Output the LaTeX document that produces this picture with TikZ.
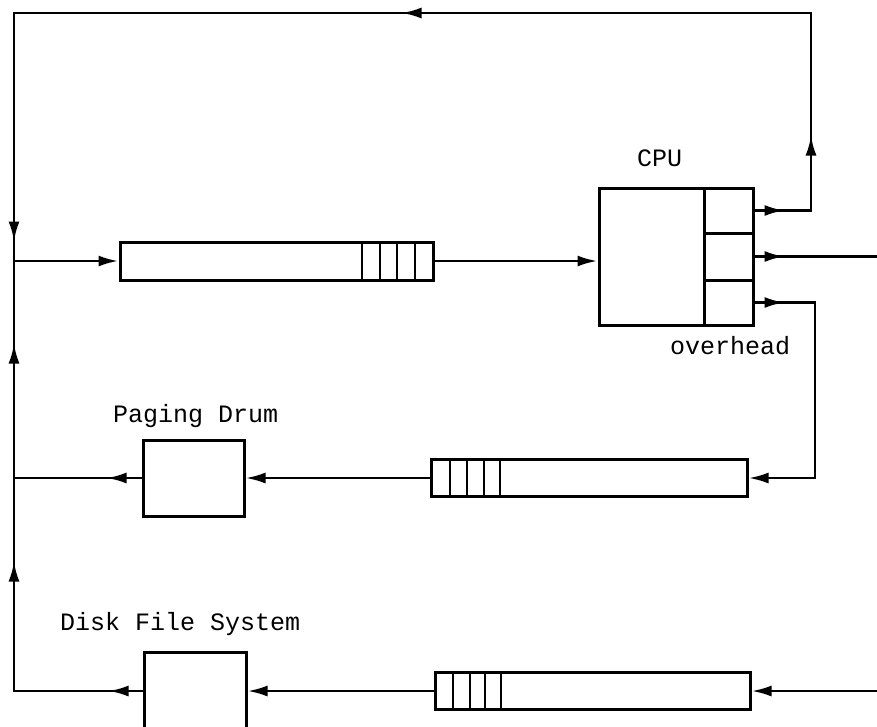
\documentclass[tikz,border=0pt]{standalone}
\usepackage{fontspec}
\setmonofont{Liberation Mono}
\usetikzlibrary{arrows.meta,decorations.markings}
\tikzset{
  conn/.style={line width=2.8pt, line join=miter},
  endtip/.style={-{Latex[length=20pt,width=11pt]}},
  ma/.style={postaction={decorate,decoration={markings,mark=at position #1 with {\arrow{Latex[length=20pt,width=11pt]}}}}},
  boxnode/.style={draw, line width=3pt, inner sep=0pt, rectangle},
  slotline/.style={line width=2.2pt},
  lbl/.style={inner sep=0pt, anchor=base west, font=\fontsize{25}{30}\selectfont\ttfamily}
}
\begin{document}
\begin{tikzpicture}[x=1pt,y=-1pt]
\useasboundingbox (0,0) rectangle (877,726);
\clip (0,0) rectangle (877,726);
% coordinates
\coordinate (TL) at (14,13);
\coordinate (TR) at (811,13);
\coordinate (J1) at (14,261);
\coordinate (C3) at (815,478);
\coordinate (ER) at (877,257);
\coordinate (EB) at (877,691);
% top queue
\node[boxnode, minimum width=313pt, minimum height=38pt] (tq) at (276.5,261) {};
\foreach \x in {362,380,397,415} \draw[slotline] (\x,242) -- (\x,280);
% CPU
\node[boxnode, minimum width=105pt, minimum height=137pt] (cpu) at (651.5,256.5) {};
\node[boxnode, minimum width=49pt, minimum height=45pt] (s1) at (728.5,210.5) {};
\node[boxnode, minimum width=49pt, minimum height=47pt] (s2) at (728.5,256.5) {};
\node[boxnode, minimum width=49pt, minimum height=45pt] (s3) at (728.5,302.5) {};
% paging
\node[boxnode, minimum width=316pt, minimum height=37pt] (pq) at (589,478) {};
\foreach \x in {450,467,484,500} \draw[slotline] (\x,459.5) -- (\x,496.5);
\node[boxnode, minimum width=101pt, minimum height=76pt] (pd) at (193.5,478) {};
% disk
\node[boxnode, minimum width=315pt, minimum height=37pt] (dq) at (592.5,691) {};
\foreach \x in {453,470,485,501} \draw[slotline] (\x,672.5) -- (\x,709.5);
\node[boxnode, minimum width=102pt, minimum height=108pt] (dk) at (195,706) {};
% labels
\node[lbl] (cpulbl) at (637,166) {CPU};
\node[lbl] (ovh) at (670,354) {overhead};
\node[lbl] (pdl) at (113,422) {Paging Drum};
\node[lbl] (dkl) at (60,630) {Disk File System};
% connectors
\draw[conn, ma=30pt, ma=131.5pt, ma=663.5pt, ma=1279.5pt]
  (s1.east) -- (s1.east -| TR) -- (TR) -- (TL) -- (J1);
\draw[conn, ma=30pt] (s2.east) -- (s2.east -| ER);
\draw[conn, endtip, ma=30pt] (s3.east) -- (s3.east -| C3) -- (C3) -- (pq.east);
\draw[conn, endtip] (pq.west) -- (pq.west -| pd.east);
\draw[conn, ma=35pt] (pd.west) -- (pd.west -| J1);
\draw[conn, endtip] (EB) -- (dq.east);
\draw[conn, endtip] (dq.west) -- (dq.west -| dk.east);
\draw[conn, endtip, ma=34pt, ma=258pt, ma=476pt]
  (dq.west -| dk.west) -- (dq.west -| J1) -- (J1) -- (tq.west);
\draw[conn, endtip] (tq.east) -- (tq.east -| cpu.west);
\end{tikzpicture}
\end{document}
